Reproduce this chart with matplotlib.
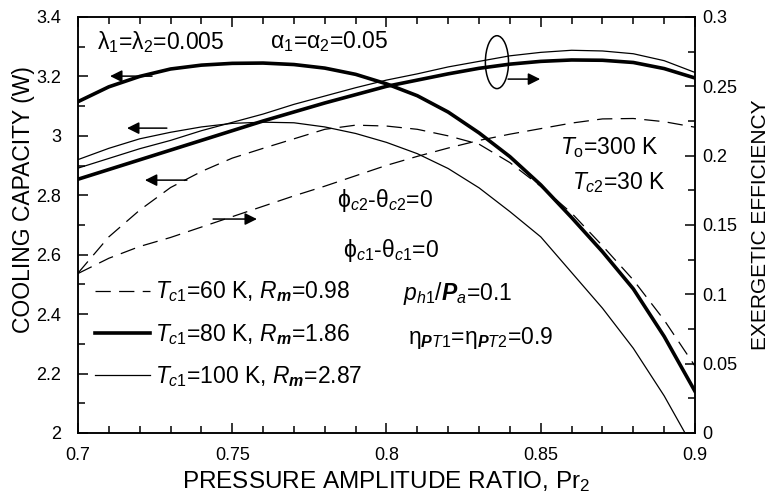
import matplotlib
matplotlib.use("Agg")
import matplotlib.pyplot as plt
from matplotlib.patches import Ellipse
from matplotlib.ticker import MultipleLocator, FormatStrFormatter

plt.rcParams['font.family'] = ['Liberation Sans', 'DejaVu Sans']
plt.rcParams['mathtext.fontset'] = 'custom'
plt.rcParams['mathtext.rm'] = 'Liberation Sans'
plt.rcParams['mathtext.it'] = 'Liberation Sans:italic'
plt.rcParams['mathtext.bf'] = 'Liberation Sans:bold:italic'
plt.rcParams['lines.scale_dashes'] = False

# pressure amplitude ratio
pr2 = [0.70, 0.71, 0.72, 0.73, 0.74, 0.75, 0.76, 0.77, 0.78, 0.79, 0.80,
       0.81, 0.82, 0.83, 0.84, 0.85, 0.86, 0.87, 0.88, 0.89, 0.90]

# cooling capacity (W)
qc_60 = [2.538, 2.66, 2.75, 2.826, 2.88, 2.925, 2.958, 2.99, 3.022, 3.036, 3.033,
         3.022, 3.0, 2.972, 2.91, 2.83, 2.74, 2.63, 2.515, 2.38, 2.225]
qc_80 = [3.115, 3.165, 3.2, 3.225, 3.238, 3.244, 3.245, 3.24, 3.228, 3.207, 3.175,
         3.135, 3.08, 3.01, 2.93, 2.835, 2.725, 2.61, 2.485, 2.325, 2.14]
qc_100 = [2.92, 2.958, 2.99, 3.012, 3.03, 3.042, 3.046, 3.044, 3.03, 3.008, 2.978,
          2.94, 2.89, 2.825, 2.745, 2.66, 2.54, 2.42, 2.285, 2.125, 1.94]

# exergetic efficiency
ex_60 = [0.115, 0.126, 0.1345, 0.141, 0.1485, 0.156, 0.1635, 0.171, 0.178, 0.1855, 0.193,
         0.1995, 0.2055, 0.211, 0.2155, 0.2195, 0.2235, 0.2265, 0.2268, 0.2245, 0.2205]
ex_80 = [0.183, 0.19, 0.197, 0.204, 0.211, 0.218, 0.225, 0.2315, 0.238, 0.244, 0.25,
         0.2545, 0.259, 0.263, 0.266, 0.268, 0.269, 0.2688, 0.2672, 0.2628, 0.256]
ex_100 = [0.191, 0.198, 0.205, 0.211, 0.218, 0.224, 0.23, 0.237, 0.243, 0.249, 0.2545,
          0.259, 0.264, 0.268, 0.272, 0.2745, 0.276, 0.2755, 0.2735, 0.2685, 0.26]

labels = [r'$T_{c1}$=60 K, $R_{\mathbf{m}}$=0.98',
          r'$T_{c1}$=80 K, $R_{\mathbf{m}}$=1.86',
          r'$T_{c1}$=100 K, $R_{\mathbf{m}}$=2.87']

fig = plt.figure(figsize=(7.69, 4.97), dpi=100)
ax = fig.add_axes([0.1014, 0.1288, 0.8024, 0.837])
ax2 = ax.twinx()

dash = (0, (11, 6))
l1, = ax.plot(pr2, qc_60, color='black', lw=0.9, linestyle=dash)
l2, = ax.plot(pr2, qc_80, color='black', lw=2.6)
l3, = ax.plot(pr2, qc_100, color='black', lw=0.9)
ax2.plot(pr2, ex_60, color='black', lw=0.9, linestyle=dash)
ax2.plot(pr2, ex_80, color='black', lw=2.6)
ax2.plot(pr2, ex_100, color='black', lw=0.9)

ax.set_xlim(0.7, 0.9)
ax.set_ylim(2, 3.4)
ax2.set_ylim(0, 0.3)

ax.xaxis.set_major_locator(MultipleLocator(0.05))
ax.xaxis.set_minor_locator(MultipleLocator(0.01))
ax.yaxis.set_major_locator(MultipleLocator(0.2))
ax.yaxis.set_minor_locator(MultipleLocator(0.1))
ax2.yaxis.set_major_locator(MultipleLocator(0.05))
ax2.yaxis.set_minor_locator(MultipleLocator(0.025))
ax.xaxis.set_major_formatter(FormatStrFormatter('%g'))
ax.yaxis.set_major_formatter(FormatStrFormatter('%g'))
ax2.yaxis.set_major_formatter(FormatStrFormatter('%g'))

ax.tick_params(which='both', direction='in', top=True, right=False, labelsize=13, width=1.1)
ax.tick_params(which='major', length=7)
ax.tick_params(which='minor', length=5)
ax.tick_params(axis='y', pad=12)
ax.tick_params(axis='x', pad=10)
ax2.tick_params(which='both', direction='in', labelsize=13, width=1.1, pad=5)
ax2.tick_params(which='major', length=7)
ax2.tick_params(which='minor', length=5)
for a in (ax, ax2):
    for s in a.spines.values():
        s.set_linewidth(1.1)

ax.set_xlabel('PRESSURE AMPLITUDE RATIO, Pr$_2$', fontsize=17.5, labelpad=4)
ax.set_ylabel('COOLING CAPACITY (W)', fontsize=16.5)
ax.yaxis.set_label_coords(-0.07, 0.56)
ax2.set_ylabel('EXERGETIC EFFICIENCY', fontsize=15, labelpad=10)

# text annotations
fs = 16.5
ax.text(0.7062, 3.316, 'λ$_1$=λ$_2$=0.005', fontsize=fs, va='center')
ax.text(0.7622, 3.316, 'α$_1$=α$_2$=0.05', fontsize=fs, va='center')
ax.text(0.8562, 2.962, r'$T_{\mathrm{o}}$=300 K', fontsize=fs, va='center')
ax.text(0.8601, 2.844, r'$T_{c2}$=30 K', fontsize=fs, va='center')
ax.text(0.784, 2.784, r'ϕ$_{c2}$-θ$_{c2}$=0', fontsize=fs, va='center')
ax.text(0.7859, 2.615, r'ϕ$_{c1}$-θ$_{c1}$=0', fontsize=fs, va='center')
ax.text(0.8053, 2.471, r'$p_{h1}$/$\mathbf{P}_{a}$=0.1', fontsize=fs, va='center')
ax.text(0.807, 2.319, r'η$_{\mathbf{P}T1}$=η$_{\mathbf{P}T2}$=0.9', fontsize=fs, va='center')

# arrows
arr = dict(arrowstyle='-|>', color='black', lw=1.1, mutation_scale=18, shrinkA=0, shrinkB=0)
ax.annotate('', xy=(0.7104, 3.201), xytext=(0.724, 3.201), arrowprops=arr)
ax.annotate('', xy=(0.7159, 3.026), xytext=(0.7288, 3.026), arrowprops=arr)
ax.annotate('', xy=(0.7217, 2.851), xytext=(0.7353, 2.851), arrowprops=arr)
ax.annotate('', xy=(0.758, 2.72), xytext=(0.7438, 2.72), arrowprops=arr)
ax.annotate('', xy=(0.8498, 3.191), xytext=(0.8394, 3.191), arrowprops=arr)
ax.add_patch(Ellipse((0.8358, 3.248), 0.0075, 0.178, fill=False, color='black', lw=1.1))

ax.legend([l1, l2, l3], labels, loc='lower left', bbox_to_anchor=(0.002, 0.068),
          frameon=False, fontsize=16.5, handlelength=2.4, handletextpad=0.2,
          labelspacing=0.75, borderpad=0.2)

fig.savefig('out.png', dpi=100)
